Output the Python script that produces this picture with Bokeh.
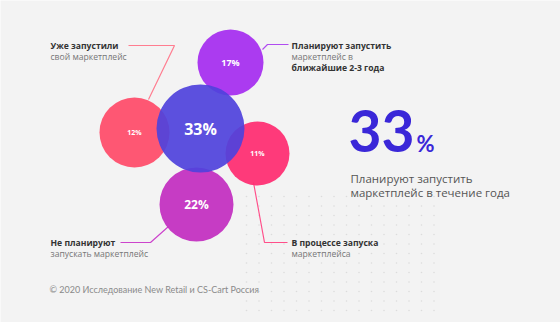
from bokeh.plotting import figure
from bokeh.models import Range1d, ColumnDataSource
from bokeh.core.properties import value
from bokeh.embed import file_html
from bokeh.resources import INLINE
import numpy as np

# data
labels = ["33%", "12%", "17%", "11%", "22%"]
shares = [33, 12, 17, 11, 22]
cx = [200, 134, 230, 257, 196]
cy = [128, 132, 62, 153, 204]
radius = [44, 35, 33, 32, 37]
colors = ["#4f42dc", "#ff4a68", "#a52bf0", "#ff2a70", "#c22cc0"]
label_sizes = ["16px", "7px", "9px", "7px", "12px"]

callout_titles = ["Уже запустили", "Планируют запустить", "Не планируют", "В процессе запуска"]
callout_subs = [["свой маркетплейс"], ["маркетплейс в"], ["запускать маркетплейс"], ["маркетплейса"]]
headline = "33"
headline_caption = ["Планируют запустить", "маркетплейс в течение года"]
footer = "© 2020 Исследование New Retail и CS-Cart Россия"

W, H = 560, 322
p = figure(width=W, height=H, output_backend="svg", toolbar_location=None,
           x_range=Range1d(0, W), y_range=Range1d(H, 0), min_border=0)
p.axis.visible = False
p.grid.visible = False
p.outline_line_color = None
p.background_fill_color = "#f3f3f3"
p.border_fill_color = "#f3f3f3"

# decorative dot grid
gx, gy = np.meshgrid(np.arange(246, 434, 12.5), np.arange(196, 318, 9.5))
p.scatter(gx.ravel(), gy.ravel(), size=1.6, color="#dcdcdc", line_color=None)

# connector lines
line_specs = [
    ([128, 174, 148], [45, 45, 99], "#ff7d90"),
    ([262, 267, 288], [49, 44, 44], "#b04cf0"),
    ([120, 150, 168], [242, 242, 226], "#cc44cc"),
    ([253, 264, 287], [182, 242, 242], "#ff4f8a"),
]
for xs, ys, c in line_specs:
    p.line(xs, ys, line_color=c, line_width=1.2)

# bubbles
order = [1, 2, 3, 4, 0]
src = ColumnDataSource(dict(x=[cx[i] for i in order], y=[cy[i] for i in order],
                            r=[radius[i] for i in order], c=[colors[i] for i in order]))
p.circle("x", "y", radius="r", fill_color="c", fill_alpha=0.92, line_color=None, source=src)

for i in range(len(labels)):
    p.text([cx[i]], [cy[i]], text=[labels[i]], text_align="center", text_baseline="middle",
           text_color="white", text_font=value("Open Sans"), text_font_size=label_sizes[i],
           text_font_style="bold")

lab_font = value("Open Sans")
# callouts
def callout(x, y, lines):
    for k, (t, bold) in enumerate(lines):
        p.text([x], [y + 11 * k], text=[t], text_font=lab_font, text_font_size="8.6px",
               text_font_style="bold" if bold else "normal",
               text_color="#333333" if bold else "#777777", text_baseline="middle")

callout(50, 45, [(callout_titles[0], True), (callout_subs[0][0], False)])
callout(291, 45, [(callout_titles[1], True), (callout_subs[1][0], False), ("ближайшие 2-3 года", True)])
callout(50, 242, [(callout_titles[2], True), (callout_subs[2][0], False)])
callout(291, 242, [(callout_titles[3], True), (callout_subs[3][0], False)])

# headline
p.text([348], [130], text=[headline], text_font=value("Lato"), text_font_size="57px",
       text_font_style="bold", text_color="#3a27d8", text_baseline="middle")
p.text([416], [143], text=["%"], text_font=value("Lato"), text_font_size="22px",
       text_font_style="bold", text_color="#3a27d8", text_baseline="middle")
p.text([350, 350], [178, 192], text=headline_caption, text_font=lab_font,
       text_font_size="11.5px", text_color="#555555", text_baseline="middle")

p.text([49], [289], text=[footer], text_font=value("Lato"), text_font_size="9px",
       text_color="#8a8a8a", text_baseline="middle")

open("out.html", "w").write(file_html(p, INLINE))
